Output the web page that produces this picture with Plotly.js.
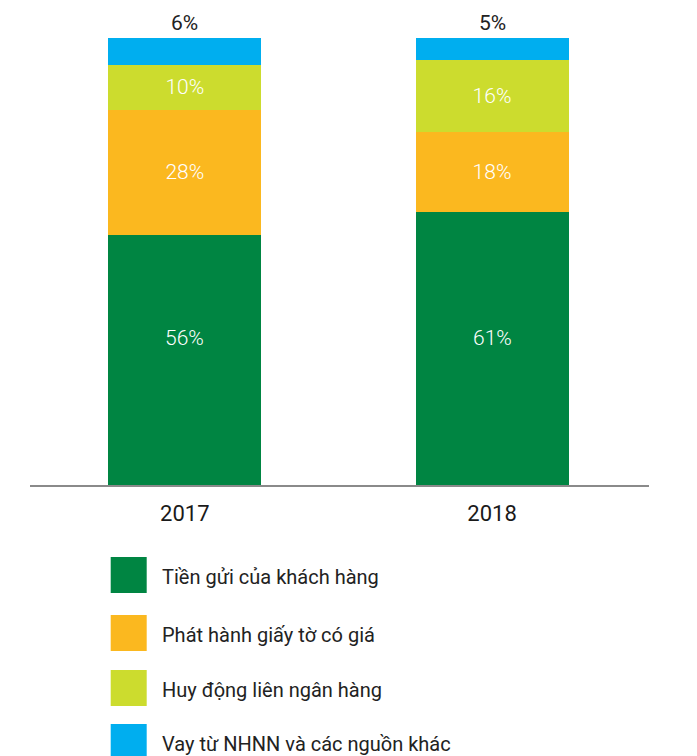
<!DOCTYPE html>
<html>
<head>
<meta charset="utf-8">
<script src="https://cdn.plot.ly/plotly-3.0.1.min.js"></script>
<style>html,body{margin:0;padding:0;background:#fff;}#chart{width:697px;height:756px;}</style>
</head>
<body>
<div id="chart"></div>
<script>
const years = ['2017', '2018'];
const seriesNames = ['Tiền gửi của khách hàng', 'Phát hành giấy tờ có giá', 'Huy động liên ngân hàng', 'Vay từ NHNN và các nguồn khác'];
const deposits = [56, 61];
const papers = [28, 18];
const interbank = [10, 16];
const sbvOther = [6, 5];
const colors = ['#008542', '#FBB81F', '#CCDC2E', '#00AEEF'];

const seriesValues = [deposits, papers, interbank, sbvOther];
const FONT = 'Roboto, "Noto Sans", sans-serif';
const insideFont = {color: '#ffffff', size: 21, family: FONT, weight: 300};

const traces = seriesValues.map((vals, i) => ({
  type: 'bar',
  x: years,
  y: vals,
  name: seriesNames[i],
  marker: {color: colors[i], line: {width: 0}},
  text: vals.map(v => v + '%'),
  textposition: (i === 0 || i === 3) ? 'none' : 'inside',
  insidetextanchor: 'middle',
  textfont: insideFont,
  hoverinfo: 'skip',
  showlegend: false
}));

const annotations = [];
years.forEach((yr, j) => {
  // Top labels above the last segment
  annotations.push({
    x: j,
    y: seriesValues.reduce((s, arr) => s + arr[j], 0),
    xref: 'x', yref: 'y',
    text: sbvOther[j] + '%',
    showarrow: false,
    yanchor: 'bottom',
    yshift: 1,
    font: {size: 21, color: '#222222', family: FONT}
  });
  // Deposit labels sit at a fixed height inside the green segment
  annotations.push({
    x: j, y: 0.329, xref: 'x', yref: 'paper',
    text: deposits[j] + '%', showarrow: false,
    yanchor: 'middle',
    font: insideFont
  });
});

// Custom legend (big square swatches)
const legTops = [557, 615, 670, 724];
const shapes = [];
seriesNames.forEach((nm, i) => {
  const top = legTops[i];
  shapes.push({
    type: 'rect', xref: 'paper', yref: 'paper',
    x0: (110.7 - 30) / 619, x1: (146.7 - 30) / 619,
    y0: (485 - (top + 36)) / 447, y1: (485 - top) / 447,
    fillcolor: colors[i], line: {width: 0}, layer: 'above'
  });
  annotations.push({
    xref: 'paper', yref: 'paper',
    x: (160 - 30) / 619, y: (485 - (top + 20)) / 447,
    xanchor: 'left', yanchor: 'middle',
    text: nm, showarrow: false,
    font: {size: 20, color: '#222222', family: FONT}
  });
});

const layout = {
  width: 697, height: 756,
  margin: {l: 30, r: 48, t: 38, b: 271},
  barmode: 'stack',
  bargap: 0.502,
  paper_bgcolor: '#ffffff',
  plot_bgcolor: '#ffffff',
  showlegend: false,
  xaxis: {
    type: 'category',
    categoryorder: 'array', categoryarray: years,
    range: [-0.504, 1.511], autorange: false,
    showline: true, linecolor: '#8a8a8a', linewidth: 2,
    showgrid: false, zeroline: false, ticks: '',
    tickfont: {size: 22, color: '#1a1a1a', family: FONT},
    ticklabelstandoff: 8,
    fixedrange: true
  },
  yaxis: {
    range: [0, 100], autorange: false, visible: false, showgrid: false, zeroline: false, fixedrange: true
  },
  annotations: annotations,
  shapes: shapes,
  font: {family: FONT}
};

Plotly.newPlot('chart', traces, layout, {displayModeBar: false, staticPlot: true});
</script>
</body>
</html>
